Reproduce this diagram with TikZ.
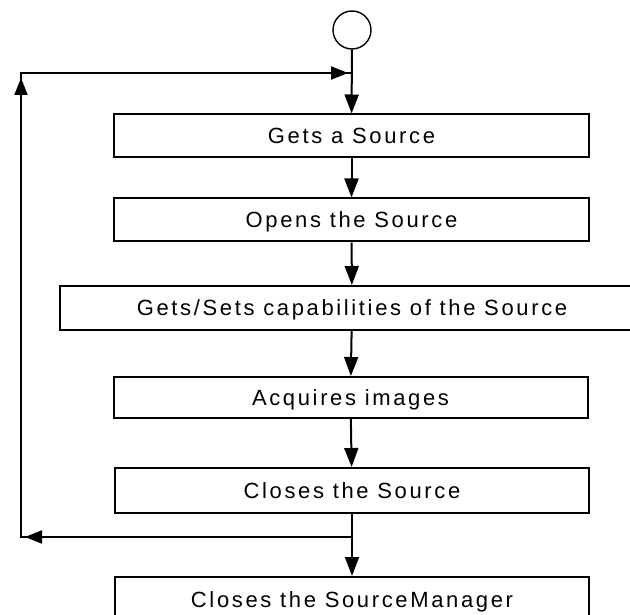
\documentclass[tikz,border=0pt]{standalone}
\usepackage{fontspec}
\setmainfont{Liberation Sans}[LetterSpace=12]
\usetikzlibrary{arrows.meta}
\begin{document}
\begin{tikzpicture}[x=1pt,y=-1pt,
  line width=2pt,
  stepbox/.style={draw=black, rectangle, inner sep=0pt, minimum height=43pt,
    font=\fontsize{22}{26}\selectfont, text height=16pt, text depth=0pt},
  startcirc/.style={draw=black, circle, line width=1.4pt, minimum size=38pt, inner sep=0pt},
  flow/.style={-{Triangle[length=19pt,width=14pt]}},
  loopr/.style={-{Triangle[length=17pt,width=13pt]}}]
\fill[white] (0,0) rectangle (630,615);
\useasboundingbox (0,0) rectangle (630,615);
\clip (0,0) rectangle (630,615);

\node[startcirc] (start) at (352,30) {};
\node[stepbox, minimum width=475pt] (b1) at (351.5,136) {Gets a Source};
\node[stepbox, minimum width=475pt] (b2) at (351.5,220) {Opens the Source};
\node[stepbox, minimum width=584pt, minimum height=44pt] (b3) at (352,308) {Gets/Sets capabilities of the Source};
\node[stepbox, minimum width=474pt, minimum height=41pt] (b4) at (350.5,397.5) {Acquires images};
\node[stepbox, minimum width=474pt, minimum height=45pt] (b5) at (352,490.5) {Closes the Source};
\node[stepbox, minimum width=474pt, minimum height=44pt] (b6) at (352,599) {Closes the SourceManager};

\coordinate (j1) at (352,73);
\coordinate (j2) at (352,537);
\coordinate (c1) at (21,537);
\coordinate (c2) at (21,73);

\draw[flow] (start) -- (b1);
\draw[flow] (b1) -- (b2);
\draw[flow] (b2) -- (b3);
\draw[flow] (b3) -- (b4);
\draw[flow] (b4) -- (b5);
\draw (b5) -- (j2);
\draw[flow] (j2) -- (b6);

\draw (j2) -- (c1) -- (c2) -- (j1);
\draw[loopr, shorten >=4pt] (j2) -- (c1);
\draw[loopr, shorten >=5pt] (c1) -- (c2);
\draw[loopr, shorten >=4pt] (c2) -- (j1);
\end{tikzpicture}
\end{document}
